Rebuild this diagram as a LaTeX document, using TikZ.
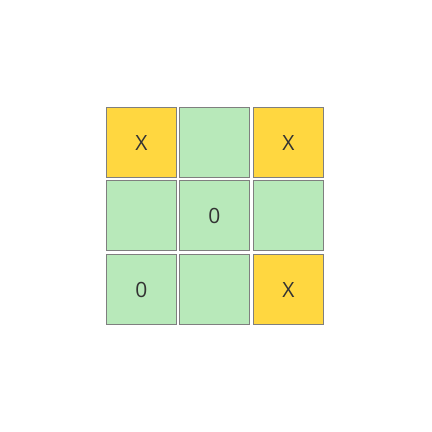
\documentclass[tikz,border=0pt]{standalone}
\usepackage{fontspec}
\setmainfont{Open Sans}
\definecolor{cellyellow}{HTML}{FFD740}
\definecolor{cellgreen}{HTML}{B8E9BA}
\definecolor{cellborder}{HTML}{7F7F7F}
\definecolor{marktext}{HTML}{333333}
\begin{document}
\begin{tikzpicture}[x=1pt,y=-1pt,
  cell/.style={draw=cellborder,line width=0.9pt,minimum width=70pt,minimum height=70pt,inner sep=0pt,anchor=center,text=marktext,font=\fontsize{21}{21}\selectfont},
  ycell/.style={cell,fill=cellyellow},
  gcell/.style={cell,fill=cellgreen}]
\useasboundingbox (0,0) rectangle (432,432);
\fill[white] (0,0) rectangle (432,432);
\node[ycell] (c11) at (141.5,142.5) {X};
\node[gcell] (c12) at (214.5,142.5) {};
\node[ycell] (c13) at (288.5,142.5) {X};
\node[gcell] (c21) at (141.5,215.5) {};
\node[gcell] (c22) at (214.5,215.5) {0};
\node[gcell] (c23) at (288.5,215.5) {};
\node[gcell] (c31) at (141.5,289.5) {0};
\node[gcell] (c32) at (214.5,289.5) {};
\node[ycell] (c33) at (288.5,289.5) {X};
\end{tikzpicture}
\end{document}
